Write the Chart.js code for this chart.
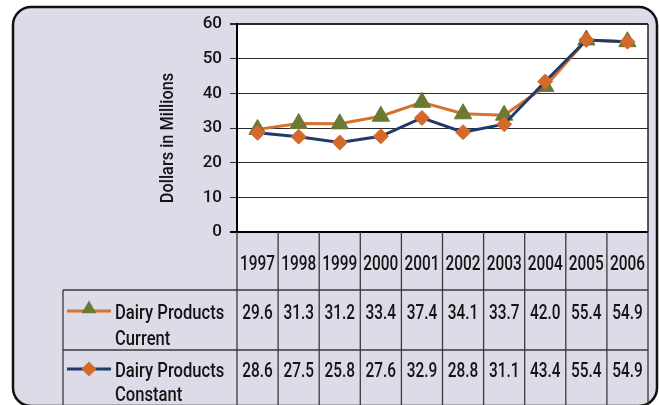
<!DOCTYPE html>
<html>
<head>
<meta charset="utf-8">
<script src="https://cdn.jsdelivr.net/npm/chart.js@4.4.0/dist/chart.umd.min.js"></script>
<style>
  html, body { margin: 0; padding: 0; background: #fff; }
  canvas { display: block; }
</style>
</head>
<body>
<canvas id="dairyChart" width="659" height="405"></canvas>
<script>
// data
const years = ['1997', '1998', '1999', '2000', '2001', '2002', '2003', '2004', '2005', '2006'];
const currentValues = [29.6, 31.3, 31.2, 33.4, 37.4, 34.1, 33.7, 42.0, 55.4, 54.9];
const constantValues = [28.6, 27.5, 25.8, 27.6, 32.9, 28.8, 31.1, 43.4, 55.4, 54.9];
const yTicks = [0, 10, 20, 30, 40, 50, 60];
const currentName = ['Dairy Products', 'Current'];
const constantName = ['Dairy Products', 'Constant'];
const yTitle = 'Dollars in Millions';

const FONT = 'Roboto, "Liberation Sans", sans-serif';
const TEXT = '#141414';
const ORANGE_LINE = '#d4722f';
const GREEN = '#6b7a33';
const NAVY = '#1f3a6c';
const ORANGE_MARK = '#d3692a';

function triangle(ctx, x, y, r) {
  ctx.beginPath();
  ctx.moveTo(x, y - r);
  ctx.lineTo(x + r * 0.866, y + r * 0.5);
  ctx.lineTo(x - r * 0.866, y + r * 0.5);
  ctx.closePath();
  ctx.fill();
}
function diamond(ctx, x, y, r) {
  ctx.beginPath();
  ctx.moveTo(x, y - r);
  ctx.lineTo(x + r, y);
  ctx.lineTo(x, y + r);
  ctx.lineTo(x - r, y);
  ctx.closePath();
  ctx.fill();
}
// squeezed text, to get close to the condensed face of the original
function narrowText(ctx, s, x, y, align, sx) {
  ctx.save();
  ctx.translate(x, y);
  ctx.scale(sx, 1);
  ctx.textAlign = align;
  ctx.fillText(s, 0, 0);
  ctx.restore();
}

// lavender panel + white plot area
const panelPlugin = {
  id: 'panel',
  beforeDraw(chart) {
    const ctx = chart.ctx;
    const a = chart.chartArea;
    ctx.save();
    ctx.beginPath();
    ctx.roundRect(13, 7, 644, 399, 18);
    ctx.fillStyle = '#dcdce8';
    ctx.fill();
    ctx.lineWidth = 2.5;
    ctx.strokeStyle = '#111';
    ctx.stroke();
    ctx.fillStyle = '#fff';
    ctx.fillRect(a.left, a.top, a.right - a.left, a.bottom - a.top);
    ctx.restore();
  }
};

// y title, right border and the data table under the plot
const tablePlugin = {
  id: 'dataTable',
  afterDraw(chart) {
    const ctx = chart.ctx;
    const a = chart.chartArea;
    const xs = chart.scales.x;
    const colW = (a.right - a.left) / years.length;
    const bottom = chart.height;
    const tableLeft = 63;
    const row1Top = a.bottom + 58;
    const row2Top = row1Top + 60;

    ctx.save();
    // y axis title
    ctx.translate(168, 138);
    ctx.rotate(-Math.PI / 2);
    ctx.font = '500 19px ' + FONT;
    ctx.fillStyle = TEXT;
    ctx.textBaseline = 'middle';
    narrowText(ctx, yTitle, 0, 0, 'center', 0.86);
    ctx.restore();

    ctx.save();
    ctx.strokeStyle = '#222';
    ctx.lineWidth = 1.5;
    ctx.beginPath();
    ctx.moveTo(a.right, a.top);
    ctx.lineTo(a.right, a.bottom);
    ctx.stroke();

    // grid of the table
    ctx.strokeStyle = '#3a3a3a';
    ctx.lineWidth = 1.3;
    ctx.beginPath();
    for (let i = 0; i <= years.length; i++) {
      const x = a.left + i * colW;
      ctx.moveTo(x, a.bottom);
      ctx.lineTo(x, bottom);
    }
    ctx.moveTo(tableLeft, row1Top); ctx.lineTo(a.right, row1Top);
    ctx.moveTo(tableLeft, row2Top); ctx.lineTo(a.right, row2Top);
    ctx.moveTo(tableLeft, row1Top); ctx.lineTo(tableLeft, bottom);
    ctx.stroke();

    ctx.font = '500 20px ' + FONT;
    ctx.fillStyle = TEXT;
    ctx.textBaseline = 'alphabetic';
    years.forEach((yr, i) => {
      const cx = xs.getPixelForValue(i);
      narrowText(ctx, yr, cx, a.bottom + 38, 'center', 0.77);
      narrowText(ctx, currentValues[i].toFixed(1), cx, row1Top + 29, 'center', 0.77);
      narrowText(ctx, constantValues[i].toFixed(1), cx, row2Top + 27, 'center', 0.77);
    });

    // legend keys
    ctx.lineWidth = 3;
    ctx.strokeStyle = ORANGE_LINE;
    ctx.beginPath();
    ctx.moveTo(67, row1Top + 21); ctx.lineTo(111, row1Top + 21);
    ctx.stroke();
    ctx.fillStyle = GREEN;
    triangle(ctx, 89, row1Top + 19, 8.5);
    ctx.strokeStyle = NAVY;
    ctx.beginPath();
    ctx.moveTo(67, row2Top + 19); ctx.lineTo(111, row2Top + 19);
    ctx.stroke();
    ctx.fillStyle = ORANGE_MARK;
    diamond(ctx, 89, row2Top + 19, 7.5);

    ctx.fillStyle = TEXT;
    narrowText(ctx, currentName[0], 115, row1Top + 29, 'left', 0.83);
    narrowText(ctx, currentName[1], 115, row1Top + 55, 'left', 0.83);
    narrowText(ctx, constantName[0], 115, row2Top + 27, 'left', 0.83);
    narrowText(ctx, constantName[1], 115, row2Top + 51, 'left', 0.83);
    ctx.restore();
  }
};

new Chart(document.getElementById('dairyChart'), {
  type: 'line',
  data: {
    labels: years,
    datasets: [
      {
        label: currentName.join(' '),
        data: currentValues,
        borderColor: ORANGE_LINE,
        borderWidth: 3,
        pointStyle: 'triangle',
        pointRadius: 10,
        pointBackgroundColor: GREEN,
        pointBorderColor: GREEN,
        pointBorderWidth: 1,
        order: 1
      },
      {
        label: constantName.join(' '),
        data: constantValues,
        borderColor: NAVY,
        borderWidth: 3,
        pointStyle: 'rectRot',
        pointRadius: 7.5,
        pointBackgroundColor: ORANGE_MARK,
        pointBorderColor: ORANGE_MARK,
        pointBorderWidth: 1,
        order: 0
      }
    ]
  },
  options: {
    responsive: false,
    animation: false,
    devicePixelRatio: 1,
    layout: { padding: { left: 0, top: 24, right: 7, bottom: 173 } },
    elements: { line: { tension: 0 } },
    plugins: { legend: { display: false }, tooltip: { enabled: false } },
    scales: {
      x: { display: false, offset: true },
      y: {
        min: 0,
        max: 60,
        afterFit(scale) { scale.width = 237; },
        afterBuildTicks(scale) { scale.ticks = yTicks.map(v => ({ value: v })); },
        ticks: { padding: 8, color: TEXT, font: { family: FONT, size: 17, weight: '500' } },
        grid: {
          color: c => (c.tick && c.tick.value === 0) ? '#000' : '#2a2a2a',
          lineWidth: c => (c.tick && (c.tick.value === 0 || c.tick.value === 60)) ? 2 : 1,
          tickLength: 7
        },
        border: { color: '#000', width: 2 }
      }
    }
  },
  plugins: [panelPlugin, tablePlugin]
});
</script>
</body>
</html>
